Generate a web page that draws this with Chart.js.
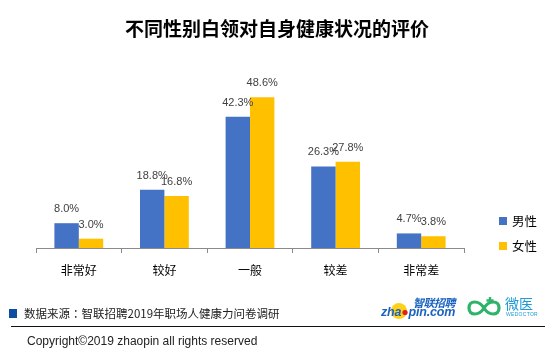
<!DOCTYPE html>
<html><head><meta charset="utf-8">
<script src="https://cdn.jsdelivr.net/npm/chart.js@4/dist/chart.umd.min.js"></script>
<style>
html,body{margin:0;padding:0;background:#fff}
body{width:554px;height:352px;position:relative;overflow:hidden;font-family:"Noto Sans CJK SC","Liberation Sans",sans-serif}
#c{position:absolute;left:0;top:0}
#title{position:absolute;left:0;top:14px;width:554px;text-align:center;font-weight:bold;font-size:19px;line-height:28px;color:#000}
#srcbox{position:absolute;left:9px;top:309px;width:8px;height:9px;background:#0b4ea2}
#src{position:absolute;left:24px;top:305px;font-size:11.5px;line-height:16px;color:#222;white-space:nowrap}
#src .colon{font-family:"Noto Sans CJK TC",sans-serif}
#rule{position:absolute;left:11px;top:326px;width:534px;height:1px;background:#111}
#copy{position:absolute;left:27px;top:333px;font-family:"Liberation Sans",Arial,sans-serif;font-size:12px;line-height:16px;color:#222;white-space:nowrap}
#zp{position:absolute;left:381px;top:296px;width:82px;height:26px}
#zpcn{position:absolute;left:32px;top:0;font-size:11px;line-height:12px;font-weight:bold;font-style:italic;color:#1a63c0;letter-spacing:-0.5px}
#zpcirc{position:absolute;left:10px;top:7px;width:16px;height:16px;border-radius:50%;background:#ffd21a}
#zpen{position:absolute;left:0;top:10px;font-family:"Liberation Sans",Arial,sans-serif;font-size:12.5px;line-height:13px;font-weight:bold;font-style:italic;color:#1a63c0;letter-spacing:-0.2px}
#wy{position:absolute;left:466px;top:297px;width:76px;height:22px}
#wytxt{position:absolute;left:39px;top:-2px;font-size:14px;line-height:16px;color:#1f9ad6}
#wyen{position:absolute;left:40px;top:14px;font-family:"Liberation Sans",Arial,sans-serif;font-size:5px;line-height:6px;color:#1f9ad6;letter-spacing:0.3px}
</style></head><body>
<canvas id="c" width="554" height="352"></canvas>
<div id="title">不同性别白领对自身健康状况的评价</div>
<div id="srcbox"></div>
<div id="src">数据来源<span class="colon">：</span>智联招聘2019年职场人健康力问卷调研</div>
<div id="zp"><div id="zpcirc"></div><div id="zpcn">智联招聘</div><div id="zpen">zha<span style="color:#d22">●</span>pin.com</div></div>
<div id="wy"><svg width="38" height="22" viewBox="0 0 38 22"><path d="M18 11 C13 3,3 3,3 11 C3 19,13 19,18 11 C23 3,33 3,33 11 C33 19,23 19,18 11Z" fill="none" stroke="#2fb36b" stroke-width="3.2"/><path d="M24 0 v7 M20.5 3.5 h7" stroke="#2fb36b" stroke-width="2.4"/></svg><div id="wytxt">微医</div><div id="wyen">WEDOCTOR</div></div>
<div id="rule"></div>
<div id="copy">Copyright©2019 zhaopin all rights reserved</div>
<script>
const categories = ['非常好', '较好', '一般', '较差', '非常差'];
const seriesNames = ['男性', '女性'];
const maleValues = [8.0, 18.8, 42.3, 26.3, 4.7];
const femaleValues = [3.0, 16.8, 48.6, 27.8, 3.8];
const seriesColors = ['#4472C4', '#FFC000'];

const valueLabels = {
  id: 'valueLabels',
  afterDatasetsDraw(chart) {
    const ctx = chart.ctx;
    ctx.save();
    ctx.font = '11px "Liberation Sans Narrow", "Liberation Sans", Arial, sans-serif';
    ctx.fillStyle = '#404040';
    ctx.textAlign = 'center';
    ctx.textBaseline = 'alphabetic';
    chart.data.datasets.forEach((ds, i) => {
      chart.getDatasetMeta(i).data.forEach((el, j) => {
        ctx.fillText(ds.data[j].toFixed(1) + '%', el.x, el.y - 11);
      });
    });
    ctx.restore();
  }
};

const sideLegend = {
  id: 'sideLegend',
  afterDraw(chart) {
    const ctx = chart.ctx, a = chart.chartArea;
    ctx.save();
    ctx.font = '12.5px "Noto Sans CJK SC", sans-serif';
    ctx.textBaseline = 'middle';
    ctx.textAlign = 'left';
    chart.data.datasets.forEach((ds, i) => {
      const y = a.bottom - 27 + i * 25;
      ctx.fillStyle = ds.backgroundColor;
      ctx.fillRect(a.right + 35, y - 4, 8, 8);
      ctx.fillStyle = '#000';
      ctx.fillText(ds.label, a.right + 48, y);
    });
    ctx.restore();
  }
};

new Chart(document.getElementById('c'), {
  type: 'bar',
  data: {
    labels: categories,
    datasets: [
      { label: seriesNames[0], data: maleValues, backgroundColor: seriesColors[0] },
      { label: seriesNames[1], data: femaleValues, backgroundColor: seriesColors[1] }
    ]
  },
  options: {
    responsive: false,
    animation: false,
    devicePixelRatio: 1,
    categoryPercentage: 0.57,
    barPercentage: 1.0,
    layout: { padding: { left: 36, right: 90, top: 62, bottom: 64.6 } },
    plugins: { legend: { display: false }, tooltip: { enabled: false }, title: { display: false } },
    scales: {
      x: {
        grid: { offset: true, drawOnChartArea: false, drawTicks: true, tickLength: 5, color: '#8a8a8a' },
        border: { color: '#8a8a8a', width: 1 },
        ticks: { padding: 10, color: '#000', font: { size: 12, family: '"Noto Sans CJK SC", sans-serif' }, maxRotation: 0 }
      },
      y: { display: false, min: 0, max: 60 }
    }
  },
  plugins: [valueLabels, sideLegend]
});
</script>
</body></html>
